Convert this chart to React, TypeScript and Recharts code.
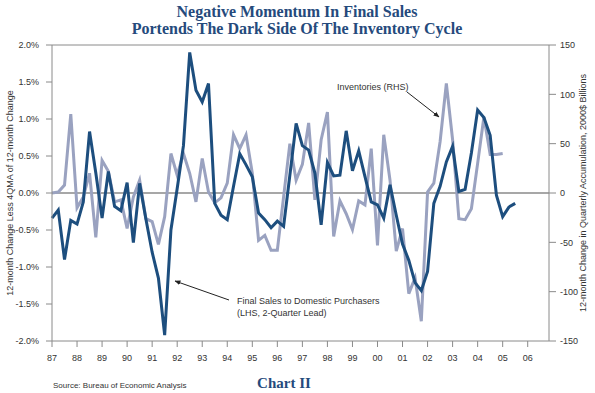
import { ComposedChart, Line, XAxis, YAxis, ReferenceLine } from 'recharts';

// Final sales to domestic purchasers, quarterly from 1987Q1 (LHS, %, 2-quarter lead)
const FINAL_SALES = [
  -0.34, -0.23, -0.9, -0.37, -0.42, -0.12, 0.83, 0.27, -0.34, 0.29,
  -0.18, -0.24, 0.14, -0.67, 0.13, -0.35, -0.8, -1.15, -1.92, -0.5,
  0.06, 0.64, 1.9, 1.39, 1.23, 1.48, -0.14, -0.3, -0.36, 0.09,
  0.53, 0.38, 0.22, -0.27, -0.36, -0.47, -0.38, -0.45, 0.24, 0.94,
  0.64, 0.58, 0.27, -0.43, 0.41, 0.23, 0.24, 0.84, 0.3, 0.57,
  0.22, -0.12, -0.16, -0.34, 0.11, -0.3, -0.69, -0.91, -1.21, -1.32,
  -1.06, -0.14, 0.09, 0.42, 0.63, 0.02, 0.05, 0.54, 1.12, 1.02,
  0.78, -0.03, -0.32, -0.19, -0.14,
];

// Inventories, quarterly from 1987Q1 (RHS, 2000$ billions)
const INVENTORIES = [
  0, 1, 8, 80, -15, -4, 20, -45, 33, 22,
  -9, -7, -36, -4, 13, -26, -29, -52, -24, 40,
  18, 40, 20, -9, 35, 1, -10, -5, 10, 59,
  45, 59, 20, -48, -43, -58, -58, -4, 50, 13,
  29, 71, -7, 54, 82, -44, -8, -21, -37, -8,
  -12, 45, -53, 59, 13, -59, -36, -102, -86, -130,
  1, 10, 52, 111, 54, -26, -27, -16, 30, 77,
  39, 39, 40,
];

const YEAR_TICKS = [
  1987, 1988, 1989, 1990, 1991, 1992, 1993, 1994, 1995, 1996,
  1997, 1998, 1999, 2000, 2001, 2002, 2003, 2004, 2005, 2006,
];
const LEFT_TICKS = [-2, -1.5, -1, -0.5, 0, 0.5, 1, 1.5, 2];
const RIGHT_TICKS = [-150, -100, -50, 0, 50, 100, 150];

const data = FINAL_SALES.map((v, i) => ({
  t: 1987 + i / 4,
  sales: v,
  inv: i < INVENTORIES.length ? INVENTORIES[i] : undefined,
}));

const SANS = '"Liberation Sans", Arial, sans-serif';
const SERIF = '"Liberation Serif", "Times New Roman", serif';
const TITLE = '#254a7c';
const AXIS = '#8a8a8a';
const tickStyle = { fontSize: 9, fill: '#333', fontFamily: SANS };

export default function App() {
  return (
    <div style={{ position: 'absolute', left: 0, top: 0, width: 595, height: 393, background: '#fff' }}>
      <ComposedChart width={595} height={393} data={data} margin={{ top: 45, right: 0, bottom: 0, left: 0 }}>
        <XAxis
          dataKey="t"
          type="number"
          domain={[1987, 2006.85]}
          ticks={YEAR_TICKS}
          interval={0}
          tickFormatter={(v: number) => String(v).slice(2)}
          height={52}
          tick={tickStyle}
          stroke={AXIS}
          tickSize={6}
          tickMargin={8}
        />
        <YAxis
          yAxisId="left"
          domain={[-2, 2]}
          ticks={LEFT_TICKS}
          interval={0}
          tickFormatter={(v: number) => `${v.toFixed(1)}%`}
          width={52}
          tick={tickStyle}
          stroke={AXIS}
          tickSize={6}
          tickMargin={7}
        />
        <YAxis
          yAxisId="right"
          orientation="right"
          domain={[-150, 150]}
          ticks={RIGHT_TICKS}
          interval={0}
          width={46}
          tick={{ ...tickStyle, textAnchor: 'start' }}
          stroke={AXIS}
          tickSize={7}
          tickMargin={4}
        />
        <ReferenceLine yAxisId="left" y={2} stroke={AXIS} />
        <ReferenceLine yAxisId="left" y={0} stroke={AXIS} strokeWidth={1.5} />
        <Line
          yAxisId="right"
          dataKey="inv"
          type="linear"
          stroke="#9aa2c0"
          strokeWidth={3}
          dot={false}
          isAnimationActive={false}
        />
        <Line
          yAxisId="left"
          dataKey="sales"
          type="linear"
          stroke="#1d4e7e"
          strokeWidth={3}
          dot={false}
          isAnimationActive={false}
        />
      </ComposedChart>
      <svg width={595} height={393} style={{ position: 'absolute', left: 0, top: 0, pointerEvents: 'none' }}>
        <defs>
          <marker id="ah" viewBox="0 0 10 10" refX="9" refY="5" markerWidth="6" markerHeight="6" orient="auto">
            <path d="M0,1 L10,5 L0,9 z" fill="#222" />
          </marker>
        </defs>
        <text x={297} y={17} textAnchor="middle" fontFamily={SERIF} fontWeight="bold" fontSize={16} fill={TITLE}>
          Negative Momentum In Final Sales
        </text>
        <text x={297} y={34} textAnchor="middle" fontFamily={SERIF} fontWeight="bold" fontSize={16} fill={TITLE}>
          Portends The Dark Side Of The Inventory Cycle
        </text>
        <text
          transform="translate(13,193) rotate(-90)"
          textAnchor="middle"
          fontFamily={SANS}
          fontSize={9}
          fill="#333"
        >
          12-month Change Less 4QMA of 12-month Change
        </text>
        <text
          transform="translate(586,193) rotate(-90)"
          textAnchor="middle"
          fontFamily={SANS}
          fontSize={9}
          fill="#333"
        >
          12-month Change in Quarterly Accumulation, 2000$ Billions
        </text>
        <text x={337} y={90} fontFamily={SANS} fontSize={9} fill="#333">Inventories (RHS)</text>
        <line x1={407} y1={92} x2={439} y2={117} stroke="#222" strokeWidth={1} markerEnd="url(#ah)" />
        <text x={237} y={304} fontFamily={SANS} fontSize={9} fill="#333">Final Sales to Domestic Purchasers</text>
        <text x={237} y={316} fontFamily={SANS} fontSize={9} fill="#333">(LHS, 2-Quarter Lead)</text>
        <line x1={229} y1={300} x2={175} y2={281} stroke="#222" strokeWidth={1} markerEnd="url(#ah)" />
        <text x={53} y={388} fontFamily={SANS} fontSize={8} fill="#333">Source: Bureau of Economic Analysis</text>
        <text x={284} y={388} textAnchor="middle" fontFamily={SERIF} fontWeight="bold" fontSize={15} fill={TITLE}>
          Chart II
        </text>
      </svg>
    </div>
  );
}
